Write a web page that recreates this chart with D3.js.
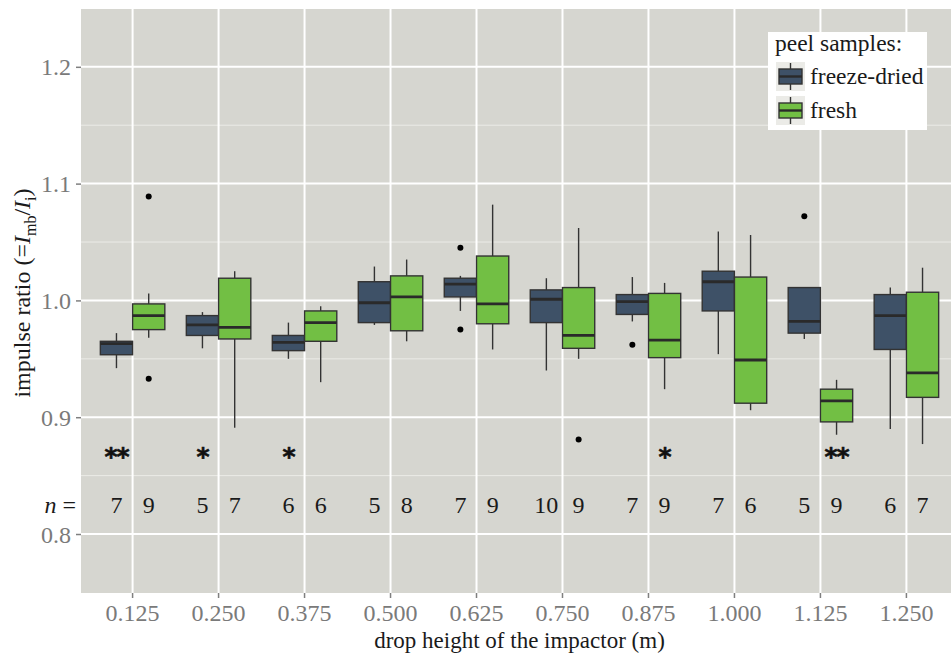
<!DOCTYPE html>
<html>
<head>
<meta charset="utf-8">
<script src="https://cdn.jsdelivr.net/npm/d3@7"></script>
<style>
  html, body { margin: 0; padding: 0; background: #fff; }
  svg { display: block; font-family: "Liberation Serif", "Times New Roman", serif; }
</style>
</head>
<body>
<div id="chart"></div>
<script>
// drop heights (m)
const heights = ['0.125', '0.250', '0.375', '0.500', '0.625', '0.750', '0.875', '1.000', '1.125', '1.250'];
const series = ['freeze-dried', 'fresh'];
const colors = { 'freeze-dried': '#3e5167', 'fresh': '#72bf44' };

// box stats: [lower whisker, q1, median, q3, upper whisker]
const freezeDried = [
  [0.942, 0.9535, 0.963, 0.965, 0.972],
  [0.959, 0.970, 0.979, 0.987, 0.990],
  [0.950, 0.957, 0.964, 0.970, 0.981],
  [0.979, 0.981, 0.998, 1.016, 1.029],
  [0.991, 1.003, 1.014, 1.019, 1.021],
  [0.940, 0.981, 1.001, 1.009, 1.019],
  [0.982, 0.988, 0.999, 1.005, 1.020],
  [0.954, 0.991, 1.016, 1.025, 1.059],
  [0.967, 0.972, 0.982, 1.011, 1.011],
  [0.890, 0.958, 0.987, 1.005, 1.011]
];
const fresh = [
  [0.968, 0.975, 0.987, 0.997, 1.006],
  [0.891, 0.967, 0.977, 1.019, 1.025],
  [0.930, 0.965, 0.981, 0.991, 0.995],
  [0.965, 0.974, 1.003, 1.021, 1.035],
  [0.958, 0.980, 0.997, 1.038, 1.082],
  [0.950, 0.959, 0.970, 1.011, 1.062],
  [0.924, 0.951, 0.966, 1.006, 1.015],
  [0.906, 0.912, 0.949, 1.020, 1.056],
  [0.885, 0.896, 0.914, 0.924, 0.932],
  [0.877, 0.917, 0.938, 1.007, 1.028]
];
const fdOutliers = [[], [], [], [], [1.045, 0.975], [], [0.962], [], [1.072], []];
const freshOutliers = [[1.089, 0.933], [], [], [], [], [0.881], [], [], [], []];

const fdN = [7, 5, 6, 5, 7, 10, 7, 7, 5, 6];
const freshN = [9, 7, 6, 8, 9, 9, 9, 6, 9, 7];
// significance marks: [category index, series, label]
const stars = [
  [0, 'freeze-dried', '**'],
  [1, 'freeze-dried', '*'],
  [2, 'freeze-dried', '*'],
  [6, 'fresh', '*'],
  [8, 'fresh', '**']
];
const yTicks = [0.8, 0.9, 1.0, 1.1, 1.2];
const yMinor = [0.85, 0.95, 1.05, 1.15];

const W = 951, H = 654;
const panel = { left: 81, top: 9, right: 958, bottom: 593 };

const svg = d3.select('#chart').append('svg').attr('width', W).attr('height', H);

const x = d3.scaleBand().domain(heights)
  .range([panel.left, panel.right]).paddingInner(0).paddingOuter(0.1);
const step = x.step();
const xSub = d3.scaleBand().domain(series).range([-0.375 * step, 0.375 * step]);
const y = d3.scaleLinear().domain([0.7495, 1.2495]).range([panel.bottom, panel.top]);
const cx = (i, s) => x(heights[i]) + x.bandwidth() / 2 + xSub(s) + xSub.bandwidth() / 2;

// panel background + grid
svg.append('rect')
  .attr('x', panel.left).attr('y', panel.top)
  .attr('width', panel.right - panel.left).attr('height', panel.bottom - panel.top)
  .attr('fill', '#d6d6d0');
const grid = svg.append('g');
grid.selectAll('line.minor').data(yMinor).enter().append('line')
  .attr('x1', panel.left).attr('x2', panel.right)
  .attr('y1', d => y(d)).attr('y2', d => y(d))
  .attr('stroke', '#ebebe7').attr('stroke-width', 1);
grid.selectAll('line.major').data(yTicks).enter().append('line')
  .attr('x1', panel.left).attr('x2', panel.right)
  .attr('y1', d => y(d)).attr('y2', d => y(d))
  .attr('stroke', '#fff').attr('stroke-width', 2);
grid.selectAll('line.vert').data(heights).enter().append('line')
  .attr('x1', d => x(d) + x.bandwidth() / 2).attr('x2', d => x(d) + x.bandwidth() / 2)
  .attr('y1', panel.top).attr('y2', panel.bottom)
  .attr('stroke', '#fff').attr('stroke-width', 2);

// axes
const yAxis = svg.append('g').attr('transform', 'translate(' + panel.left + ',0)')
  .call(d3.axisLeft(y).tickValues(yTicks).tickFormat(d3.format('.1f')).tickSize(5).tickPadding(5));
const xAxis = svg.append('g').attr('transform', 'translate(0,' + panel.bottom + ')')
  .call(d3.axisBottom(x).tickSize(5).tickPadding(7));
[yAxis, xAxis].forEach(a => {
  a.select('.domain').remove();
  a.selectAll('line').attr('stroke', '#7f7f7f').attr('stroke-width', 1.5);
  a.selectAll('text').attr('fill', '#7a7a7a').style('font-size', '24px')
    .style('font-family', '"Liberation Serif", serif');
});
yAxis.selectAll('text').attr('dy', '0.34em');
xAxis.selectAll('text').attr('dy', '0.68em');

// boxes
function drawSeries(stats, outliers, s) {
  const g = svg.append('g');
  const bw = xSub.bandwidth();
  stats.forEach((b, i) => {
    const c = cx(i, s);
    g.append('line').attr('x1', c).attr('x2', c).attr('y1', y(b[4])).attr('y2', y(b[3]))
      .attr('stroke', '#333').attr('stroke-width', 1.4);
    g.append('line').attr('x1', c).attr('x2', c).attr('y1', y(b[1])).attr('y2', y(b[0]))
      .attr('stroke', '#333').attr('stroke-width', 1.4);
    g.append('rect').attr('x', c - bw / 2).attr('y', y(b[3]))
      .attr('width', bw).attr('height', y(b[1]) - y(b[3]))
      .attr('fill', colors[s]).attr('stroke', '#333').attr('stroke-width', 1.4);
    g.append('line').attr('x1', c - bw / 2).attr('x2', c + bw / 2)
      .attr('y1', y(b[2])).attr('y2', y(b[2]))
      .attr('stroke', '#2a2a2a').attr('stroke-width', 2.8);
    outliers[i].forEach(o => {
      g.append('circle').attr('cx', c).attr('cy', y(o)).attr('r', 3).attr('fill', '#000');
    });
  });
}
drawSeries(freezeDried, fdOutliers, 'freeze-dried');
drawSeries(fresh, freshOutliers, 'fresh');

// stars
svg.selectAll('text.star').data(stars).enter().append('text')
  .attr('x', d => cx(d[0], d[1])).attr('y', y(0.871) + 14)
  .attr('text-anchor', 'middle')
  .style('font-family', '"DejaVu Sans", sans-serif').style('font-weight', 'bold')
  .style('font-size', '25px').style('letter-spacing', '-1px')
  .attr('fill', '#111').attr('stroke', '#111').attr('stroke-width', 0.6)
  .text(d => d[2]);

// n labels
const nRow = y(0.8182);
const nLabels = [];
heights.forEach((h, i) => {
  nLabels.push([cx(i, 'freeze-dried'), fdN[i]]);
  nLabels.push([cx(i, 'fresh'), freshN[i]]);
});
svg.selectAll('text.n').data(nLabels).enter().append('text')
  .attr('x', d => d[0]).attr('y', nRow).attr('text-anchor', 'middle')
  .style('font-size', '24px').attr('fill', '#1a1a1a').text(d => d[1]);
const nHead = svg.append('text').attr('x', 76).attr('y', nRow).attr('text-anchor', 'end')
  .style('font-size', '24px').attr('fill', '#1a1a1a');
nHead.append('tspan').style('font-style', 'italic').text('n');
nHead.append('tspan').text(' =');

// axis titles
svg.append('text').attr('x', (panel.left + panel.right) / 2).attr('y', 648)
  .attr('text-anchor', 'middle').style('font-size', '23px').attr('fill', '#1a1a1a')
  .text('drop height of the impactor (m)');
const yt = svg.append('text')
  .attr('transform', 'translate(30,' + ((panel.top + panel.bottom) / 2 - 8) + ') rotate(-90)')
  .attr('text-anchor', 'middle').style('font-size', '24px').attr('fill', '#1a1a1a');
yt.append('tspan').text('impulse ratio (=');
yt.append('tspan').style('font-style', 'italic').text('I');
yt.append('tspan').attr('dy', 6).style('font-size', '16px').text('mb');
yt.append('tspan').attr('dy', -6).text('/');
yt.append('tspan').style('font-style', 'italic').text('I');
yt.append('tspan').attr('dy', 6).style('font-size', '16px').text('i');
yt.append('tspan').attr('dy', -6).text(')');

// legend
const lg = svg.append('g').attr('transform', 'translate(768,32)');
lg.append('rect').attr('width', 159).attr('height', 98).attr('fill', '#fff');
lg.append('text').attr('x', 7).attr('y', 19).style('font-size', '23.5px').attr('fill', '#1a1a1a')
  .text('peel samples:');
series.forEach((s, i) => {
  const ky = 30 + i * 34;
  const k = lg.append('g').attr('transform', 'translate(8,' + ky + ')');
  k.append('rect').attr('width', 29).attr('height', 29).attr('fill', '#ebebe7');
  k.append('line').attr('x1', 14.5).attr('x2', 14.5).attr('y1', 1).attr('y2', 28)
    .attr('stroke', '#333').attr('stroke-width', 1.4);
  k.append('rect').attr('x', 3).attr('y', 7).attr('width', 23).attr('height', 15)
    .attr('fill', colors[s]).attr('stroke', '#333').attr('stroke-width', 1.4);
  k.append('line').attr('x1', 3).attr('x2', 26).attr('y1', 14.5).attr('y2', 14.5)
    .attr('stroke', '#2a2a2a').attr('stroke-width', 2.4);
  lg.append('text').attr('x', 42).attr('y', ky + 22).style('font-size', '23.5px')
    .attr('fill', '#1a1a1a').text(s);
});
</script>
</body>
</html>
